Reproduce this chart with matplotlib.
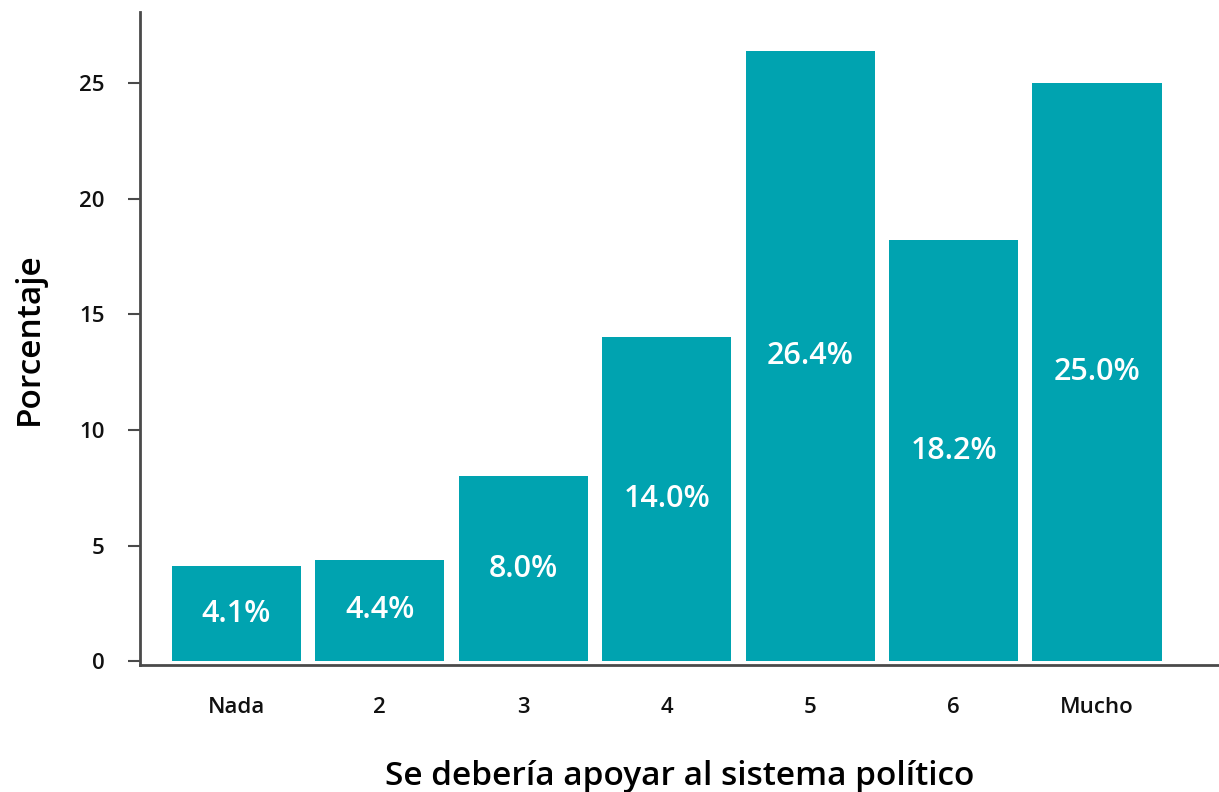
import matplotlib
matplotlib.use("Agg")
import matplotlib.pyplot as plt

plt.rcParams['font.family'] = ['Open Sans', 'DejaVu Sans']

categorias = ["Nada", "2", "3", "4", "5", "6", "Mucho"]
porcentajes = [4.1, 4.4, 8.0, 14.0, 26.4, 18.2, 25.0]
yticks = [0, 5, 10, 15, 20, 25]

TEAL = "#00A3B0"
GRIS = "#4a4a4a"

fig = plt.figure(figsize=(12.19, 7.92), dpi=100)
ax = fig.add_axes([0.1149, 0.160, 0.8851, 0.825])

x = list(range(len(categorias)))
ax.bar(x, porcentajes, width=0.9, color=TEAL, edgecolor="none")

for xi, v in zip(x, porcentajes):
    ax.text(xi, v / 2, f"{v:.1f}%", ha="center", va="center",
            color="white", fontsize=22, fontweight="semibold")

ax.set_xlim(-0.67, 6.85)
ax.set_ylim(-0.17, 28.07)
ax.set_xticks(x)
ax.set_xticklabels(categorias)
ax.set_yticks(yticks)

for s in ["top", "right"]:
    ax.spines[s].set_visible(False)
for s in ["left", "bottom"]:
    ax.spines[s].set_color(GRIS)
    ax.spines[s].set_linewidth(2)

ax.tick_params(axis="y", length=8.5, width=1.5, color=GRIS, labelsize=16,
               labelcolor="#111111", pad=17)
ax.tick_params(axis="x", length=0, labelsize=16, labelcolor="#111111", pad=23)
for lab in ax.get_xticklabels() + ax.get_yticklabels():
    lab.set_fontweight("semibold")

ax.set_ylabel("Porcentaje", fontsize=24, fontweight="semibold", labelpad=24)
ax.set_xlabel("Se debería apoyar al sistema político", fontsize=24,
              fontweight="semibold", labelpad=30)

fig.savefig("out.png", dpi=100)
